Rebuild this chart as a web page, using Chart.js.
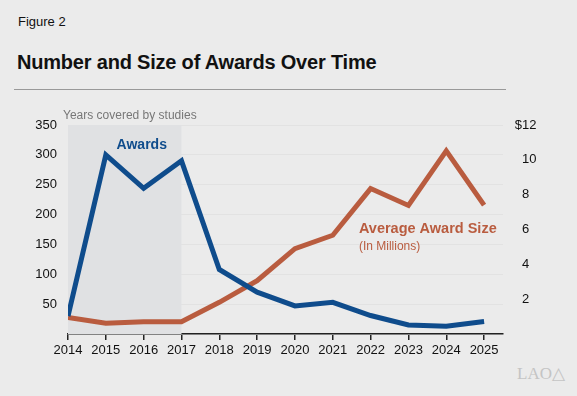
<!DOCTYPE html>
<html>
<head>
<meta charset="utf-8">
<script src="https://cdn.jsdelivr.net/npm/chart.js@4/dist/chart.umd.min.js"></script>
<style>
  html, body { margin: 0; padding: 0; }
  body { width: 577px; height: 396px; background: #ebebeb; position: relative; overflow: hidden;
         font-family: "Liberation Sans", Arial, sans-serif; }
  #fig { position: absolute; left: 18px; top: 14px; font-size: 13px; color: #111; }
  #title { position: absolute; left: 17px; top: 51px; font-size: 20px; font-weight: bold; color: #111; letter-spacing: -0.2px; }
  #rule { position: absolute; left: 14px; top: 89px; width: 492px; height: 1px; background: #999; }
  #logo { position: absolute; left: 517px; top: 363px; font-family: "Liberation Serif", serif; font-size: 17px; color: #c4c4c4; }
  #wrap { position: absolute; left: 0; top: 0; width: 577px; height: 396px; }
</style>
</head>
<body>
<div id="fig">Figure 2</div>
<div id="title">Number and Size of Awards Over Time</div>
<div id="rule"></div>
<div id="logo">LAO&#9651;</div>
<div id="wrap"><canvas id="chart"></canvas></div>
<script>
// years on the x axis
const years = [2014, 2015, 2016, 2017, 2018, 2019, 2020, 2021, 2022, 2023, 2024, 2025];
// number of awards (left axis)
const awards = [30, 300, 244, 290, 108, 70, 47, 53, 31, 15, 13, 21];
// average award size in millions (right axis)
const avgSize = [0.95, 0.62, 0.70, 0.71, 1.82, 3.06, 4.9, 5.67, 8.35, 7.38, 10.52, 7.4];
const leftTicks = [50, 100, 150, 200, 250, 300, 350];
const rightTicks = [2, 4, 6, 8, 10, 12];
const studyYears = [2014, 2017];

const BLUE = '#0f4c8c';
const ORANGE = '#b95c3f';
const FONT = '"Liberation Sans", Arial, sans-serif';

const extras = {
  id: 'extras',
  beforeDatasetsDraw(chart) {
    const { ctx, chartArea, scales } = chart;
    const x0 = scales.x.getPixelForValue(studyYears[0]);
    const x1 = scales.x.getPixelForValue(studyYears[1]);
    ctx.save();
    ctx.fillStyle = '#e0e1e3';
    ctx.fillRect(x0, chartArea.top, x1 - x0, chartArea.bottom - chartArea.top);
    ctx.restore();
  },
  afterDatasetsDraw(chart) {
    const { ctx, scales } = chart;
    const x = scales.x, y = scales.y, y2 = scales.y2;
    ctx.save();
    ctx.textBaseline = 'middle';
    ctx.textAlign = 'left';
    ctx.fillStyle = '#777';
    ctx.font = '12px ' + FONT;
    ctx.fillText('Years covered by studies', x.getPixelForValue(2014) - 5, y.getPixelForValue(350) - 9);

    ctx.fillStyle = BLUE;
    ctx.font = 'bold 14px ' + FONT;
    ctx.textAlign = 'center';
    ctx.fillText('Awards', x.getPixelForValue(2015.95), y.getPixelForValue(316));

    ctx.fillStyle = ORANGE;
    ctx.textAlign = 'left';
    ctx.font = 'bold 14.5px ' + FONT;
    ctx.fillText('Average Award Size', x.getPixelForValue(2021.69), y2.getPixelForValue(6.03));
    ctx.font = '12px ' + FONT;
    ctx.fillText('(In Millions)', x.getPixelForValue(2021.69), y2.getPixelForValue(5.02));

    // right axis labels with hanging dollar sign
    ctx.fillStyle = '#111';
    ctx.font = '13px ' + FONT;
    const lx = chart.chartArea.right + 19;
    rightTicks.forEach(v => {
      const py = y2.getPixelForValue(v);
      if (v === 12) {
        ctx.textAlign = 'right';
        ctx.fillText('$', lx, py);
        ctx.textAlign = 'left';
      }
      ctx.fillText(String(v), lx, py);
    });
    ctx.restore();
  }
};

new Chart(document.getElementById('chart'), {
  type: 'line',
  data: {
    datasets: [
      {
        label: 'Awards',
        data: years.map((yr, i) => ({ x: yr, y: awards[i] })),
        borderColor: BLUE,
        borderWidth: 5,
        yAxisID: 'y',
        pointRadius: 0,
        tension: 0
      },
      {
        label: 'Average Award Size',
        data: years.map((yr, i) => ({ x: yr, y: avgSize[i] })),
        borderColor: ORANGE,
        borderWidth: 5,
        yAxisID: 'y2',
        pointRadius: 0,
        tension: 0
      }
    ]
  },
  options: {
    responsive: true,
    maintainAspectRatio: false,
    animation: false,
    layout: { padding: { top: 125, left: 0, right: 0, bottom: 0 } },
    plugins: { legend: { display: false }, tooltip: { enabled: false } },
    scales: {
      x: {
        type: 'linear',
        min: 2014,
        max: 2025.5,
        afterFit: s => { s.height = 62; },
        afterBuildTicks: s => { s.ticks = years.map(v => ({ value: v })); },
        ticks: {
          stepSize: 1,
          includeBounds: false,
          padding: 3,
          color: '#111',
          font: { family: FONT, size: 13 },
          callback: v => String(v),
          maxRotation: 0,
          autoSkip: false
        },
        grid: { drawOnChartArea: false, drawTicks: true, tickLength: 6, color: '#222', lineWidth: 1.5 },
        border: { display: true, color: '#222', width: 1.5 }
      },
      y: {
        position: 'left',
        min: 0,
        max: 350,
        afterFit: s => { s.width = 68; },
        afterBuildTicks: s => { s.ticks = [0].concat(leftTicks).map(v => ({ value: v })); },
        ticks: {
          padding: 11,
          color: '#111',
          font: { family: FONT, size: 13 },
          callback: v => (v === 0 ? '' : String(v))
        },
        grid: { drawTicks: false, color: '#e2e2e2', lineWidth: 1 },
        border: { display: false }
      },
      y2: {
        position: 'right',
        min: 0,
        max: 12,
        afterFit: s => { s.width = 74; },
        ticks: { display: false, stepSize: 2 },
        grid: { display: false },
        border: { display: false }
      }
    }
  },
  plugins: [extras]
});
</script>
</body>
</html>
